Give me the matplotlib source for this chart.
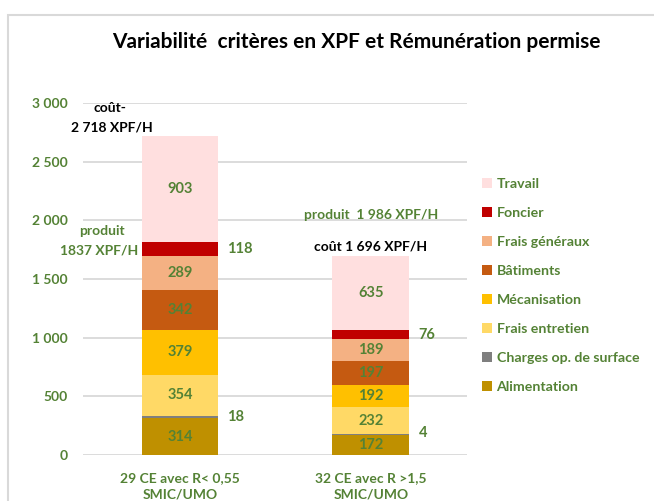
import matplotlib.pyplot as plt
import matplotlib.patches as mpatches
import numpy as np

plt.rcParams['font.family'] = ['Lato', 'DejaVu Sans']

# data, bottom of the stack first
categories = ["29 CE avec R< 0,55\nSMIC/UMO", "32 CE avec R >1,5\nSMIC/UMO"]
series = ["Alimentation", "Charges op. de surface", "Frais entretien", "Mécanisation",
          "Bâtiments", "Frais généraux", "Foncier", "Travail"]
values = {
    "Alimentation": [314, 172],
    "Charges op. de surface": [18, 4],
    "Frais entretien": [354, 232],
    "Mécanisation": [379, 192],
    "Bâtiments": [342, 197],
    "Frais généraux": [289, 189],
    "Foncier": [118, 76],
    "Travail": [903, 635],
}
colors = {
    "Alimentation": "#BF9000",
    "Charges op. de surface": "#7F7F7F",
    "Frais entretien": "#FFD966",
    "Mécanisation": "#FFC000",
    "Bâtiments": "#C55A11",
    "Frais généraux": "#F4B183",
    "Foncier": "#C00000",
    "Travail": "#FFDFDF",
}
outside = ["Charges op. de surface", "Foncier"]  # small segments labelled to the right
yticks = [0, 500, 1000, 1500, 2000, 2500, 3000]
ytick_labels = ["0", "500", "1 000", "1 500", "2 000", "2 500", "3 000"]

GREEN = "#548235"

fig = plt.figure(figsize=(6.54, 5.01), dpi=100)
ax = fig.add_axes([83 / 654, 1 - 455 / 501, (467 - 83) / 654, (455 - 103) / 501])

x = np.arange(len(categories))
width = 0.403
bottom = np.zeros(len(categories))
handles = {}
for name in series:
    v = np.array(values[name])
    bars = ax.bar(x, v, width, bottom=bottom, color=colors[name], label=name, zorder=3)
    handles[name] = bars
    for i, (b, val) in enumerate(zip(bottom, v)):
        if name in outside:
            yy = b + val / 2
            if val < 10:
                yy = b + 13
            ax.text(x[i] + width / 2 + 0.047, yy, str(val), ha='left', va='center',
                    color=GREEN, fontsize=10.5, fontweight='bold')
        else:
            ax.text(x[i], b + val / 2, str(val), ha='center', va='center',
                    color=GREEN, fontsize=10.5, fontweight='bold', zorder=4)
    bottom = bottom + v

ax.set_xlim(-0.508, 1.503)
ax.set_ylim(0, 3000)
ax.set_yticks(yticks)
ax.set_yticklabels(ytick_labels)
ax.set_xticks(x)
ax.set_xticklabels(categories, linespacing=1.45)
ax.tick_params(axis='y', length=0, pad=11, labelcolor=GREEN, labelsize=10)
ax.tick_params(axis='x', length=0, pad=12, labelcolor=GREEN, labelsize=10)
for lab in ax.get_yticklabels() + ax.get_xticklabels():
    lab.set_fontweight('bold')
for s in ax.spines.values():
    s.set_visible(False)
ax.yaxis.grid(True, color="#D9D9D9", lw=1.3, zorder=0)
ax.set_axisbelow(True)

# annotations
ax.text(-0.366, 2957, "coût-", ha='center', va='center', color='black', fontsize=10, fontweight='bold')
ax.text(-0.356, 2795, "2 718 XPF/H", ha='center', va='center', color='black', fontsize=10, fontweight='bold')
ax.text(-0.41, 1909, "produit", ha='center', va='center', color=GREEN, fontsize=10, fontweight='bold')
ax.text(-0.425, 1739, "1837 XPF/H", ha='center', va='center', color=GREEN, fontsize=10, fontweight='bold')
ax.text(1.0, 2045, "produit  1 986 XPF/H", ha='center', va='center', color=GREEN, fontsize=10, fontweight='bold')
ax.text(1.0, 1773, "coût 1 696 XPF/H", ha='center', va='center', color='black', fontsize=10, fontweight='bold')

fig.text(356 / 654, 1 - 42 / 501, "Variabilité  critères en XPF et Rémunération permise",
         ha='center', va='center', fontsize=15, fontweight='bold', color='black')

leg = ax.legend([handles[n] for n in series[::-1]], series[::-1],
                loc='upper left', bbox_to_anchor=(476 / 654, 1 - 172 / 501),
                bbox_transform=fig.transFigure, frameon=False,
                handlelength=0.7, handleheight=0.7, handletextpad=0.35,
                labelspacing=1.2, fontsize=10.2, borderaxespad=0)
for t in leg.get_texts():
    t.set_color(GREEN)
    t.set_fontweight('bold')

frame = mpatches.Rectangle((7.5 / 654, -0.1), 1.2, 1 - 15 / 501 + 0.1, transform=fig.transFigure,
                           fill=False, edgecolor="#D9D9D9", lw=1.5)
fig.patches.append(frame)

fig.savefig("out.png", dpi=100)
